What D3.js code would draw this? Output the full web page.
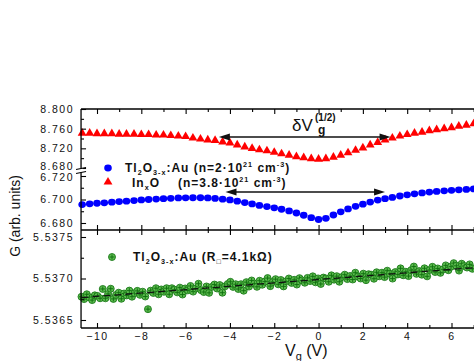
<!DOCTYPE html>
<html><head><meta charset="utf-8">
<script src="https://cdn.jsdelivr.net/npm/d3@7"></script>
<style>
html,body{margin:0;padding:0;background:#fff;}
svg{display:block;font-family:Arial,"Liberation Sans",sans-serif;}
</style></head>
<body>
<svg id="chart" width="474" height="361"></svg>
<script>
// ---------------- data ----------------
const vgSweep = [-10.67,-10.33,-10.00,-9.67,-9.33,-9.00,-8.67,-8.33,-8.00,-7.67,-7.33,-7.00,-6.67,-6.33,-6.00,-5.67,-5.33,-5.00,-4.67,-4.33,-4.00,-3.67,-3.33,-3.00,-2.67,-2.33,-2.00,-1.67,-1.33,-1.00,-0.67,-0.33,0.00,0.33,0.67,1.00,1.33,1.67,2.00,2.33,2.67,3.00,3.33,3.67,4.00,4.33,4.67,5.00,5.33,5.67,6.00,6.33,6.67,7.00];
const gInO = [8.751,8.751,8.750,8.750,8.750,8.749,8.749,8.749,8.748,8.748,8.747,8.747,8.746,8.745,8.744,8.741,8.739,8.737,8.736,8.733,8.731,8.727,8.723,8.720,8.717,8.715,8.712,8.709,8.706,8.703,8.701,8.699,8.698,8.699,8.702,8.706,8.711,8.716,8.721,8.727,8.732,8.737,8.741,8.745,8.748,8.751,8.753,8.756,8.758,8.760,8.762,8.765,8.767,8.770];
const gTlAuN = [6.6957,6.6963,6.6968,6.6972,6.6977,6.6982,6.6986,6.6991,6.6996,6.7000,6.7004,6.7007,6.7010,6.7013,6.7014,6.7015,6.7015,6.7013,6.7009,6.7003,6.6996,6.6986,6.6974,6.6962,6.6950,6.6940,6.6929,6.6917,6.6903,6.6885,6.6866,6.6845,6.6830,6.6840,6.6868,6.6895,6.6920,6.6942,6.6960,6.6978,6.6995,6.7007,6.7018,6.7030,6.7040,6.7048,6.7056,6.7063,6.7069,6.7074,6.7078,6.7082,6.7086,6.7090];
const vgGreen = [-10.70,-10.58,-10.46,-10.34,-10.22,-10.10,-9.98,-9.86,-9.74,-9.62,-9.50,-9.38,-9.26,-9.14,-9.02,-8.90,-8.78,-8.66,-8.54,-8.42,-8.30,-8.18,-8.06,-7.94,-7.82,-7.70,-7.58,-7.46,-7.34,-7.22,-7.10,-6.98,-6.86,-6.74,-6.62,-6.50,-6.38,-6.26,-6.14,-6.02,-5.90,-5.78,-5.66,-5.54,-5.42,-5.30,-5.18,-5.06,-4.94,-4.82,-4.70,-4.58,-4.46,-4.34,-4.22,-4.10,-3.98,-3.86,-3.74,-3.62,-3.50,-3.38,-3.26,-3.14,-3.02,-2.90,-2.78,-2.66,-2.54,-2.42,-2.30,-2.18,-2.06,-1.94,-1.82,-1.70,-1.58,-1.46,-1.34,-1.22,-1.10,-0.98,-0.86,-0.74,-0.62,-0.50,-0.38,-0.26,-0.14,-0.02,0.10,0.22,0.34,0.46,0.58,0.70,0.82,0.94,1.06,1.18,1.30,1.42,1.54,1.66,1.78,1.90,2.02,2.14,2.26,2.38,2.50,2.62,2.74,2.86,2.98,3.10,3.22,3.34,3.46,3.58,3.70,3.82,3.94,4.06,4.18,4.30,4.42,4.54,4.66,4.78,4.90,5.02,5.14,5.26,5.38,5.50,5.62,5.74,5.86,5.98,6.10,6.22,6.34,6.46,6.58,6.70,6.82,6.94];
const gTlAuR = [5.536780,5.536752,5.536810,5.536772,5.536740,5.536797,5.536790,5.536762,5.536874,5.536762,5.536814,5.536877,5.536754,5.536802,5.536829,5.536756,5.536819,5.536796,5.536854,5.536781,5.536824,5.536851,5.536803,5.536841,5.536783,5.536631,5.536853,5.536826,5.536883,5.536810,5.536868,5.536840,5.536883,5.536810,5.536883,5.536865,5.536833,5.536890,5.536807,5.536880,5.536857,5.536910,5.536842,5.536880,5.536937,5.536859,5.536837,5.536904,5.536827,5.536899,5.536927,5.536879,5.536921,5.536829,5.536906,5.536934,5.536960,5.536899,5.536931,5.536873,5.536931,5.536853,5.536956,5.536903,5.536976,5.536938,5.536900,5.536973,5.536925,5.536963,5.537005,5.536908,5.536960,5.536992,5.536930,5.536982,5.536905,5.536967,5.537000,5.536947,5.536984,5.536927,5.537004,5.536977,5.536949,5.537007,5.536969,5.537026,5.536954,5.537001,5.536934,5.537011,5.536999,5.536961,5.537038,5.536986,5.537028,5.536961,5.537018,5.537046,5.536993,5.537030,5.536988,5.537070,5.537023,5.537000,5.537058,5.536980,5.537052,5.537045,5.536997,5.537075,5.537027,5.537070,5.537017,5.537094,5.537057,5.536999,5.537077,5.537049,5.537122,5.537039,5.537081,5.537029,5.537101,5.537144,5.537056,5.537089,5.537046,5.537123,5.537026,5.537103,5.537141,5.537078,5.537121,5.537068,5.537110,5.537158,5.537100,5.537143,5.537185,5.537153,5.537095,5.537178,5.537150,5.537132,5.537170,5.537117];
const fitVg = [-10.7, 7.0];
const fitG = [5.53677, 5.53713];
const xTicks = [-10,-8,-6,-4,-2,0,2,4,6];
const xMinorTicks = [-9,-7,-5,-3,-1,1,3,5,7];
const yTicksTop = [8.680,8.720,8.760,8.800];
const yMinorTop = [8.700,8.740,8.780];
const yTicksMid = [6.680,6.700,6.720];
const yMinorMid = [6.690,6.710];
const yTicksBot = [5.5365,5.5370,5.5375];
const yMinorBot = [5.53675,5.53725];
const arrowTop = [-4.5, 3.25, 8.7432];
const arrowMid = [-4.2, 3.0, 6.7064];

// ---------------- layout ----------------
const svg = d3.select("#chart");
const x = d3.scaleLinear().domain([-10, 6]).range([97, 451.5]);
const xLeft = -10.72, xRight = 7.6;
const yTop = d3.scaleLinear().domain([8.680, 8.800]).range([168, 109]);
const yMid = d3.scaleLinear().domain([6.680, 6.720]).range([223, 176]);
const yBot = d3.scaleLinear().domain([5.5365, 5.5375]).range([320, 237]);
const yFrameTop = 109, ySep = 230, yFrameBot = 328, yBreak = 170.5;
const AX = x(xLeft);
const font = 'Arial,"Liberation Sans",sans-serif';
const greenFill = "#5dbb4f", greenLine = "#0d6e0d";

function greenMarker(sel){
  sel.append("circle").attr("r",3.5).attr("fill",greenFill).attr("stroke",greenLine).attr("stroke-width",0.8);
  sel.append("path").attr("d","M-2.5,0H2.5M0,-2.5V2.5").attr("stroke",greenLine).attr("stroke-width",0.9);
}

// green
svg.append("g").selectAll("g.pt").data(vgGreen.map((v,i)=>[v,gTlAuR[i]])).join("g")
  .attr("transform", d => `translate(${x(d[0])},${yBot(d[1])})`).call(greenMarker);

// fit line
svg.append("path").attr("d", d3.line()(fitVg.map((v,i)=>[x(v), yBot(fitG[i])])))
  .attr("stroke","#111").attr("stroke-width",1.3).attr("stroke-dasharray","7,4").attr("fill","none");

// blue
svg.append("g").selectAll("ellipse").data(vgSweep.map((v,i)=>[v,gTlAuN[i]])).join("ellipse")
  .attr("cx", d=>x(d[0])).attr("cy", d=>yMid(d[1])).attr("rx",3.8).attr("ry",3.4).attr("fill","#0000ff");

// red
const tri = d3.symbol(d3.symbolTriangle, 34);
svg.append("g").selectAll("path").data(vgSweep.map((v,i)=>[v,gInO[i]])).join("path")
  .attr("d", tri).attr("transform", d=>`translate(${x(d[0])},${yTop(d[1])})`).attr("fill","#ff0000");

// ---------------- axes ----------------
function styleAxis(g){
  g.select(".domain").remove();
  g.selectAll("line").attr("stroke","#000").attr("stroke-width",1.1);
  g.selectAll("text").attr("fill","#111").style("font-family",font).style("font-size","10.5px").style("letter-spacing","1.5px");
}
const frame = svg.append("g").attr("stroke","#000").attr("stroke-width",1.3);
frame.append("line").attr("x1",AX).attr("x2",x(xRight)).attr("y1",yFrameTop).attr("y2",yFrameTop);
frame.append("line").attr("x1",AX).attr("x2",x(xRight)).attr("y1",ySep).attr("y2",ySep);
frame.append("line").attr("x1",AX).attr("x2",x(xRight)).attr("y1",yFrameBot).attr("y2",yFrameBot);
frame.append("line").attr("x1",AX).attr("x2",AX).attr("y1",yFrameTop).attr("y2",yFrameBot);

svg.append("g").attr("transform",`translate(0,${yFrameTop})`).call(d3.axisTop(x).tickValues(xTicks).tickSize(-5).tickFormat("")).call(styleAxis);
svg.append("g").attr("transform",`translate(0,${yFrameTop})`).call(d3.axisTop(x).tickValues(xMinorTicks).tickSize(-3).tickFormat("")).call(styleAxis);
svg.append("g").attr("transform",`translate(0,${ySep})`).call(d3.axisTop(x).tickValues(xTicks).tickSize(5).tickFormat("")).call(styleAxis);
svg.append("g").attr("transform",`translate(0,${ySep})`).call(d3.axisBottom(x).tickValues(xTicks).tickSize(5).tickFormat("")).call(styleAxis);
svg.append("g").attr("transform",`translate(0,${ySep})`).call(d3.axisTop(x).tickValues(xMinorTicks).tickSize(3).tickFormat("")).call(styleAxis);
svg.append("g").attr("transform",`translate(0,${ySep})`).call(d3.axisBottom(x).tickValues(xMinorTicks).tickSize(3).tickFormat("")).call(styleAxis);
svg.append("g").attr("transform",`translate(0,${yFrameBot})`).call(d3.axisBottom(x).tickValues(xTicks).tickSize(-5).tickPadding(5).tickFormat(d3.format("d"))).call(styleAxis);
svg.append("g").attr("transform",`translate(0,${yFrameBot})`).call(d3.axisBottom(x).tickValues(xMinorTicks).tickSize(-3).tickFormat("")).call(styleAxis);

function yAxis(scale, major, minor, fmt, nudge){
  const g = svg.append("g").attr("transform",`translate(${AX},0)`).call(d3.axisLeft(scale).tickValues(major).tickSize(-5).tickPadding(7).tickFormat(d3.format(fmt))).call(styleAxis);
  if(nudge) g.selectAll("text").attr("y", d => nudge(d));
  svg.append("g").attr("transform",`translate(${AX},0)`).call(d3.axisLeft(scale).tickValues(minor).tickSize(-3).tickFormat("")).call(styleAxis);
}
yAxis(yTop, yTicksTop, yMinorTop, ".3f", d => d === 8.680 ? -1.5 : 0);
yAxis(yMid, yTicksMid, yMinorMid, ".3f", d => d === 6.720 ? 1.5 : 0);
yAxis(yBot, yTicksBot, yMinorBot, ".4f");

svg.append("rect").attr("x",AX-2).attr("y",yBreak-2).attr("width",4).attr("height",4).attr("fill","#fff");
svg.append("path").attr("d",`M${AX-5},${yBreak-1}L${AX+5},${yBreak-3}M${AX-5},${yBreak+3}L${AX+5},${yBreak+1}`)
  .attr("stroke","#000").attr("stroke-width",1.2);

// ---------------- labels ----------------
svg.append("text").attr("transform",`translate(20,216) rotate(-90)`).attr("text-anchor","middle")
  .style("font-family",font).style("font-size","14px").attr("fill","#111").text("G (arb. units)");

const xl = svg.append("text").attr("x",285).attr("y",356).style("font-family",font).style("font-size","16px").attr("fill","#111");
xl.append("tspan").text("V");
xl.append("tspan").attr("dy",4).style("font-size","11px").text("g");
xl.append("tspan").attr("dy",-4).text(" (V)");

function rich(xp, yp, segs, size){
  const t = svg.append("text").attr("x",xp).attr("y",yp).style("font-family",font)
    .style("font-size",size+"px").style("font-weight","bold").style("letter-spacing","1px").attr("fill","#111");
  let cur = 0;
  segs.forEach(([s,k])=>{
    const target = k==="sub"? 2.5 : k==="sup" ? -5 : 0;
    const ts = t.append("tspan").attr("dy", target-cur).text(s);
    if(k!=="n") ts.style("font-size",(size*0.6)+"px");
    cur = target;
  });
  return t;
}
svg.append("ellipse").attr("cx",108).attr("cy",168).attr("rx",3.8).attr("ry",3.4).attr("fill","#0000ff");
svg.append("path").attr("d",tri).attr("transform","translate(108,182)").attr("fill","#ff0000");
svg.append("g").attr("transform","translate(112,257)").call(greenMarker);

rich(125,172,[["Tl","n"],["2","sub"],["O","n"],["3-x","sub"],[":Au (n=2·10","n"],["21","sup"],[" cm","n"],["-3","sup"],[")","n"]],12);
rich(132,187,[["In","n"],["x","sub"],["O","n"]],12);
rich(178,187,[["(n=3.8·10","n"],["21","sup"],[" cm","n"],["-3","sup"],[")","n"]],12);
rich(133,261,[["Tl","n"],["2","sub"],["O","n"],["3-x","sub"],[":Au (R","n"],["□","sub"],["=4.1kΩ)","n"]],12);

function arrow(a, ys){
  const x1 = x(a[0]), x2 = x(a[1]), yy = ys(a[2]);
  const g = svg.append("g");
  g.append("line").attr("x1",x1+8).attr("x2",x2-8).attr("y1",yy).attr("y2",yy).attr("stroke","#111").attr("stroke-width",1.6);
  g.append("path").attr("d",`M${x1},${yy}L${x1+11},${yy-3.5}L${x1+11},${yy+3.5}Z`).attr("fill","#111");
  g.append("path").attr("d",`M${x2},${yy}L${x2-11},${yy-3.5}L${x2-11},${yy+3.5}Z`).attr("fill","#111");
}
arrow(arrowTop, yTop);
arrow(arrowMid, yMid);

svg.append("text").attr("x",292).attr("y",131).style("font-family",font).style("font-size","17px").attr("fill","#111").text("δV");
svg.append("text").attr("x",315).attr("y",121).style("font-family",font).style("font-size","10px").style("font-weight","bold").attr("fill","#111").text("(1/2)");
svg.append("text").attr("x",318).attr("y",134).style("font-family",font).style("font-size","12px").style("font-weight","bold").attr("fill","#111").text("g");
</script>
</body></html>
